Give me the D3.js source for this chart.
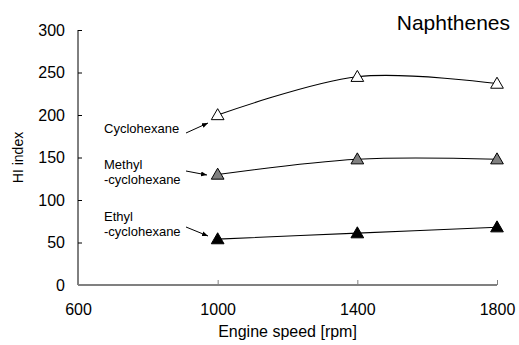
<!DOCTYPE html>
<html>
<head>
<meta charset="utf-8">
<script src="https://cdn.jsdelivr.net/npm/d3@7/dist/d3.min.js"></script>
<style>
  html, body { margin: 0; padding: 0; background: #fff; }
  svg { display: block; font-family: "Liberation Sans", Arial, sans-serif; }
</style>
</head>
<body>
<div id="chart"></div>
<script>
const speeds = [1000, 1400, 1800];
const cyclohexane = [200, 245, 237];
const methylCyclohexane = [130, 148, 148];
const ethylCyclohexane = [54, 61, 68];
const xTicks = [600, 1000, 1400, 1800];
const yTicks = [0, 50, 100, 150, 200, 250, 300];

const series = [
  { name: "Cyclohexane", values: cyclohexane, fill: "#ffffff", labelLines: ["Cyclohexane"] },
  { name: "Methyl-cyclohexane", values: methylCyclohexane, fill: "#808080", labelLines: ["Methyl", "-cyclohexane"] },
  { name: "Ethyl-cyclohexane", values: ethylCyclohexane, fill: "#000000", labelLines: ["Ethyl", "-cyclohexane"] }
];

const width = 519, height = 345;
const margin = { top: 30, right: 22, bottom: 60, left: 78 };

const svg = d3.select("#chart").append("svg")
  .attr("width", width)
  .attr("height", height);

const x = d3.scaleLinear().domain([600, 1800]).range([margin.left, width - margin.right]);
const y = d3.scaleLinear().domain([0, 300]).range([height - margin.bottom, margin.top]);

// y axis, ticks pointing inward
const yAxis = svg.append("g")
  .attr("transform", `translate(${margin.left},0)`)
  .call(d3.axisRight(y).tickValues(yTicks).tickSize(4).tickFormat(d3.format("d")));
yAxis.select(".domain").attr("stroke", "#000").attr("d", `M0,${y(300)}V${y(0)}`);
yAxis.selectAll(".tick line").attr("stroke", "#000");
yAxis.selectAll("text")
  .attr("x", -13)
  .attr("text-anchor", "end")
  .attr("font-size", 16)
  .attr("fill", "#000");

// x axis, grey, ticks pointing up
const xAxis = svg.append("g")
  .attr("transform", `translate(0,${y(0)})`)
  .call(d3.axisTop(x).tickValues(xTicks).tickSize(5).tickFormat(d3.format("d")));
xAxis.select(".domain").attr("stroke", "#808080").attr("stroke-width", 2).attr("d", `M${x(600)},0H${x(1800)}`);
xAxis.selectAll(".tick line").attr("stroke", "#808080").filter(d => d === 600).remove();
xAxis.selectAll("text")
  .attr("y", 30)
  .attr("dy", 0)
  .attr("font-size", 16)
  .attr("fill", "#000");

svg.append("text")
  .attr("x", (x(600) + x(1800)) / 2)
  .attr("y", 337)
  .attr("text-anchor", "middle")
  .attr("font-size", 16)
  .text("Engine speed [rpm]");

svg.append("text")
  .attr("transform", `translate(23,${(y(0) + y(300)) / 2}) rotate(-90)`)
  .attr("text-anchor", "middle")
  .attr("font-size", 14)
  .text("HI index");

svg.append("text")
  .attr("x", 510)
  .attr("y", 30)
  .attr("text-anchor", "end")
  .attr("font-size", 21)
  .text("Naphthenes");

const line = d3.line()
  .x((d, i) => x(speeds[i]))
  .y(d => y(d))
  .curve(d3.curveCatmullRom.alpha(0));

const tri = d3.symbol().type(d3.symbolTriangle).size(70);

series.forEach(s => {
  svg.append("path")
    .attr("d", line(s.values))
    .attr("fill", "none")
    .attr("stroke", "#000")
    .attr("stroke-width", 1.1);

  svg.selectAll(null)
    .data(s.values)
    .join("path")
    .attr("d", tri)
    .attr("transform", (d, i) => `translate(${x(speeds[i])},${y(d) + 1})`)
    .attr("fill", s.fill)
    .attr("stroke", "#000")
    .attr("stroke-width", 1);
});

// annotations with arrows
svg.append("defs").append("marker")
  .attr("id", "arrow")
  .attr("viewBox", "0 0 10 10")
  .attr("refX", 10)
  .attr("refY", 5)
  .attr("markerWidth", 6)
  .attr("markerHeight", 6)
  .attr("orient", "auto")
  .append("path")
  .attr("d", "M0,1L10,5L0,9Z")
  .attr("fill", "#000");

const labelPos = [
  { lines: [133], arrow: [[186, 133], [208, 123]] },
  { lines: [169, 184], arrow: [[186, 171], [207, 175]] },
  { lines: [221, 236], arrow: [[186, 227], [208, 236]] }
];

series.forEach((s, k) => {
  const p = labelPos[k];
  s.labelLines.forEach((t, j) => {
    svg.append("text")
      .attr("x", 104)
      .attr("y", p.lines[j])
      .attr("font-size", 13)
      .text(t);
  });
  svg.append("line")
    .attr("x1", p.arrow[0][0]).attr("y1", p.arrow[0][1])
    .attr("x2", p.arrow[1][0]).attr("y2", p.arrow[1][1])
    .attr("stroke", "#000")
    .attr("stroke-width", 1)
    .attr("marker-end", "url(#arrow)");
});
</script>
</body>
</html>
